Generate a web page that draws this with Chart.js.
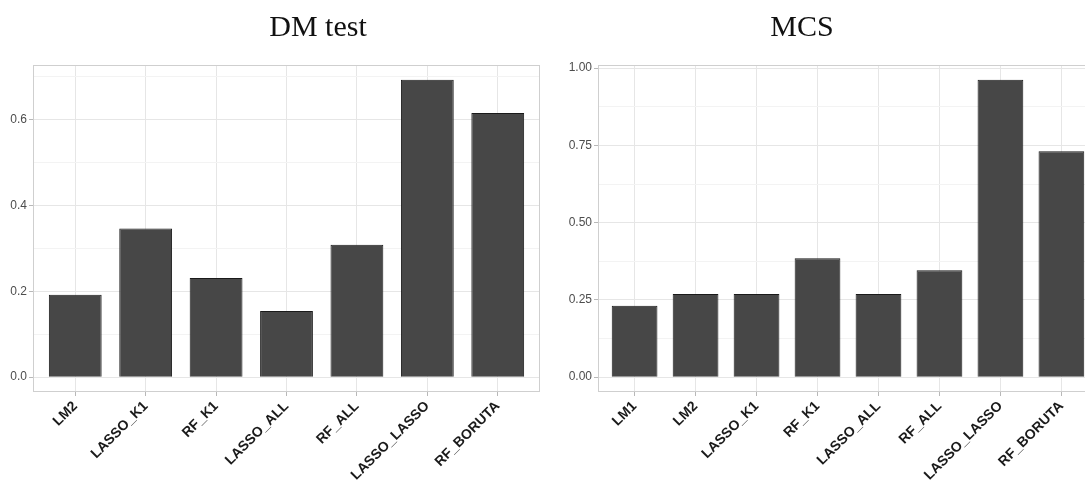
<!DOCTYPE html>
<html>
<head>
<meta charset="utf-8">
<script src="https://cdn.jsdelivr.net/npm/chart.js@4.4.1/dist/chart.umd.min.js"></script>
<style>
  html, body { margin: 0; padding: 0; background: #ffffff; overflow: hidden; width: 1085px; height: 482px; }
  #wrap { position: relative; width: 1085px; height: 482px; overflow: hidden; }
  canvas { position: absolute; top: 0; }
</style>
</head>
<body>
<div id="wrap">
  <canvas id="dm" width="636" height="482" style="left:0px"></canvas>
  <canvas id="mcs" width="592" height="482" style="left:506px"></canvas>
</div>
<script>
// ---- Data ----
const dmTitle = "DM test";
const dmCategories = ["LM2", "LASSO_K1", "RF_K1", "LASSO_ALL", "RF_ALL", "LASSO_LASSO", "RF_BORUTA"];
const dmValues = [0.192, 0.346, 0.231, 0.154, 0.308, 0.692, 0.615];
const dmTicks = [0.0, 0.2, 0.4, 0.6];

const mcsTitle = "MCS";
const mcsCategories = ["LM1", "LM2", "LASSO_K1", "RF_K1", "LASSO_ALL", "RF_ALL", "LASSO_LASSO", "RF_BORUTA"];
const mcsValues = [0.231, 0.269, 0.269, 0.385, 0.269, 0.346, 0.962, 0.731];
const mcsTicks = [0.00, 0.25, 0.50, 0.75, 1.00];

// ---- Styling ----
const BAR_FILL = '#474747';
const BAR_EDGE = '#1a1a1a';
const GRID_MAJOR = '#e6e6e6';
const GRID_MINOR = '#f3f3f3';
const PANEL_BORDER = '#cfcfcf';
const TICK_MARK = '#b8b8b8';

const panelBorder = {
  id: 'panelBorder',
  afterDraw(chart) {
    const a = chart.chartArea, ctx = chart.ctx;
    ctx.save();
    ctx.strokeStyle = PANEL_BORDER;
    ctx.lineWidth = 1;
    ctx.strokeRect(Math.round(a.left) + 0.5, Math.round(a.top) + 0.5,
                   Math.round(a.right - a.left) - 1, Math.round(a.bottom - a.top) - 1);
    ctx.restore();
  }
};

function makeChart(id, title, cats, vals, majorTicks, decimals, yAxisWidth, rightSpace) {
  const step = majorTicks[1] - majorTicks[0];
  const dataMax = Math.max(...vals);
  const expand = 0.05 * dataMax;
  const yMin = -expand, yMax = dataMax + expand;
  const allTicks = [];
  for (let v = 0; v <= yMax + 1e-9; v += step / 2) allTicks.push(+v.toFixed(6));
  const isMajor = (v) => Math.abs(v / step - Math.round(v / step)) < 1e-6;

  const scales = {
    x: {
      type: 'linear',
      offset: false,
      min: -0.6,
      max: cats.length - 1 + 0.6,
      afterBuildTicks: (s) => { s.ticks = cats.map((c, i) => ({ value: i })); },
      afterFit: (s) => { s.height = 90; },
      grid: { offset: false, color: GRID_MAJOR, lineWidth: 1, drawTicks: true, tickLength: 4, tickColor: TICK_MARK },
      border: { display: false },
      ticks: {
        autoSkip: false,
        maxRotation: 45,
        minRotation: 45,
        padding: 2,
        color: '#1a1a1a',
        font: { family: '"Liberation Sans", Arial, sans-serif', size: 14, weight: 'bold' },
        callback: (v) => cats[Math.round(v)] ?? ''
      }
    },
    y: {
      type: 'linear',
      min: yMin,
      max: yMax,
      afterBuildTicks: (s) => { s.ticks = allTicks.map(v => ({ value: v })); },
      afterFit: (s) => { s.width = yAxisWidth; },
      grid: {
        color: (ctx) => (ctx.tick && isMajor(ctx.tick.value)) ? GRID_MAJOR : GRID_MINOR,
        tickColor: (ctx) => (ctx.tick && isMajor(ctx.tick.value)) ? TICK_MARK : 'rgba(0,0,0,0)',
        lineWidth: 1,
        drawTicks: true,
        tickLength: 4
      },
      border: { display: false },
      ticks: {
        autoSkip: false,
        padding: 2,
        color: '#4d4d4d',
        font: { family: '"Liberation Sans", Arial, sans-serif', size: 12 },
        callback: (v) => isMajor(v) ? v.toFixed(decimals) : ''
      }
    }
  };
  if (rightSpace > 0) {
    // empty spacer axis on the right so the title stays centred on the whole figure
    scales.spacer = {
      type: 'linear',
      position: 'right',
      display: true,
      min: 0, max: 1,
      afterFit: (s) => { s.width = rightSpace; },
      grid: { display: false, drawTicks: false },
      border: { display: false },
      ticks: { display: false }
    };
  }

  return new Chart(document.getElementById(id), {
    type: 'bar',
    data: {
      datasets: [{
        data: vals.map((v, i) => ({ x: i, y: v })),
        backgroundColor: BAR_FILL,
        borderColor: BAR_EDGE,
        borderWidth: 1,
        barPercentage: 1.0,
        categoryPercentage: 0.75
      }]
    },
    options: {
      responsive: false,
      animation: false,
      devicePixelRatio: 1,
      layout: { padding: 0 },
      plugins: {
        legend: { display: false },
        tooltip: { enabled: false },
        title: {
          display: true,
          text: title,
          color: '#111111',
          font: { family: '"Liberation Serif", "DejaVu Serif", serif', size: 30, weight: 'normal', lineHeight: 1.2 },
          padding: { top: 10, bottom: 19 }
        }
      },
      scales: scales
    },
    plugins: [panelBorder]
  });
}

makeChart('dm', dmTitle, dmCategories, dmValues, dmTicks, 1, 33, 96);
makeChart('mcs', mcsTitle, mcsCategories, mcsValues, mcsTicks, 2, 92, 0);
</script>
</body>
</html>
